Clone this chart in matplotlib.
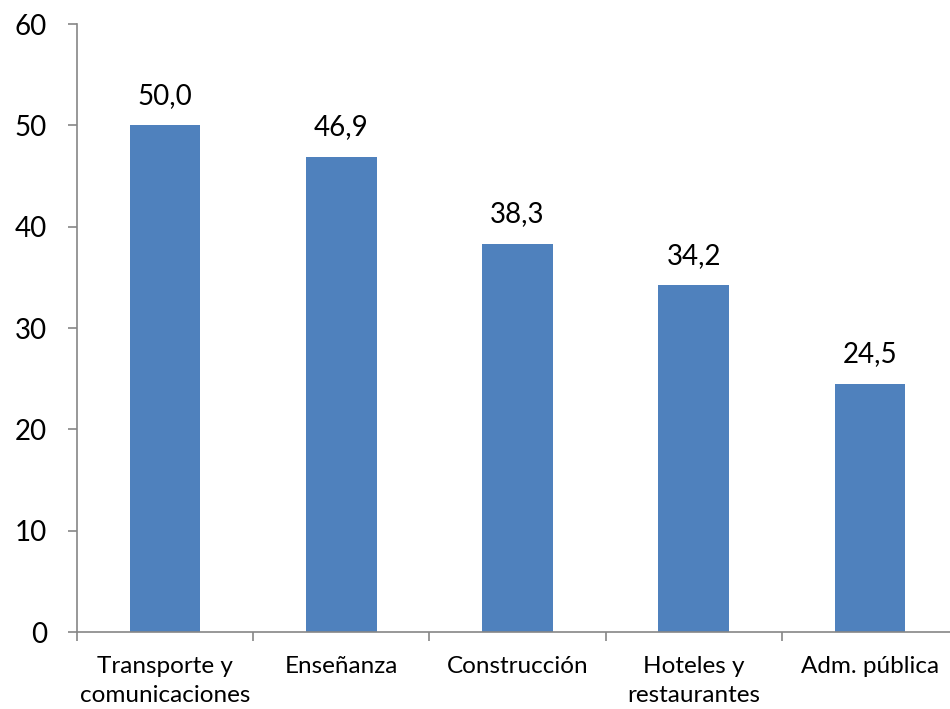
import matplotlib
matplotlib.use("Agg")
import matplotlib.pyplot as plt
import numpy as np

categorias = ["Transporte y\ncomunicaciones", "Enseñanza", "Construcción",
              "Hoteles y\nrestaurantes", "Adm. pública"]
valores = [50.0, 46.9, 38.3, 34.2, 24.5]
etiquetas = ["50,0", "46,9", "38,3", "34,2", "24,5"]

plt.rcParams["font.family"] = ["Lato", "DejaVu Sans"]

fig = plt.figure(figsize=(9.5, 7.09), dpi=100)
ax = fig.add_axes([0.081, 0.1086, 0.9275, 0.8575])

x = np.arange(len(categorias))
barras = ax.bar(x, valores, width=0.4, color="#4F81BD")
for b, txt in zip(barras, etiquetas):
    ax.annotate(txt, (b.get_x() + b.get_width() / 2, b.get_height()),
                xytext=(0, 12), textcoords="offset points",
                ha="center", va="bottom", fontsize=20)

ax.set_xlim(-0.5, len(categorias) - 0.5)
ax.set_ylim(0, 60)
ax.set_yticks(range(0, 61, 10))
ax.tick_params(axis="y", labelsize=20, length=6.5, width=1.2, color="#868686", pad=15)

# marcas del eje x entre categorías, etiquetas centradas
ax.set_xticks(np.arange(-0.5, len(categorias)), minor=False)
ax.set_xticklabels([])
ax.set_xticks(x, minor=True)
ax.set_xticklabels(categorias, minor=True, fontsize=17.5, linespacing=1.5)
ax.tick_params(axis="x", which="major", length=6.5, width=1.2, color="#868686")
ax.tick_params(axis="x", which="minor", length=0, pad=17)

for lado in ["top", "right"]:
    ax.spines[lado].set_visible(False)
for lado in ["left", "bottom"]:
    ax.spines[lado].set_color("#868686")
    ax.spines[lado].set_linewidth(1.2)

fig.savefig("out.png", dpi=100)
